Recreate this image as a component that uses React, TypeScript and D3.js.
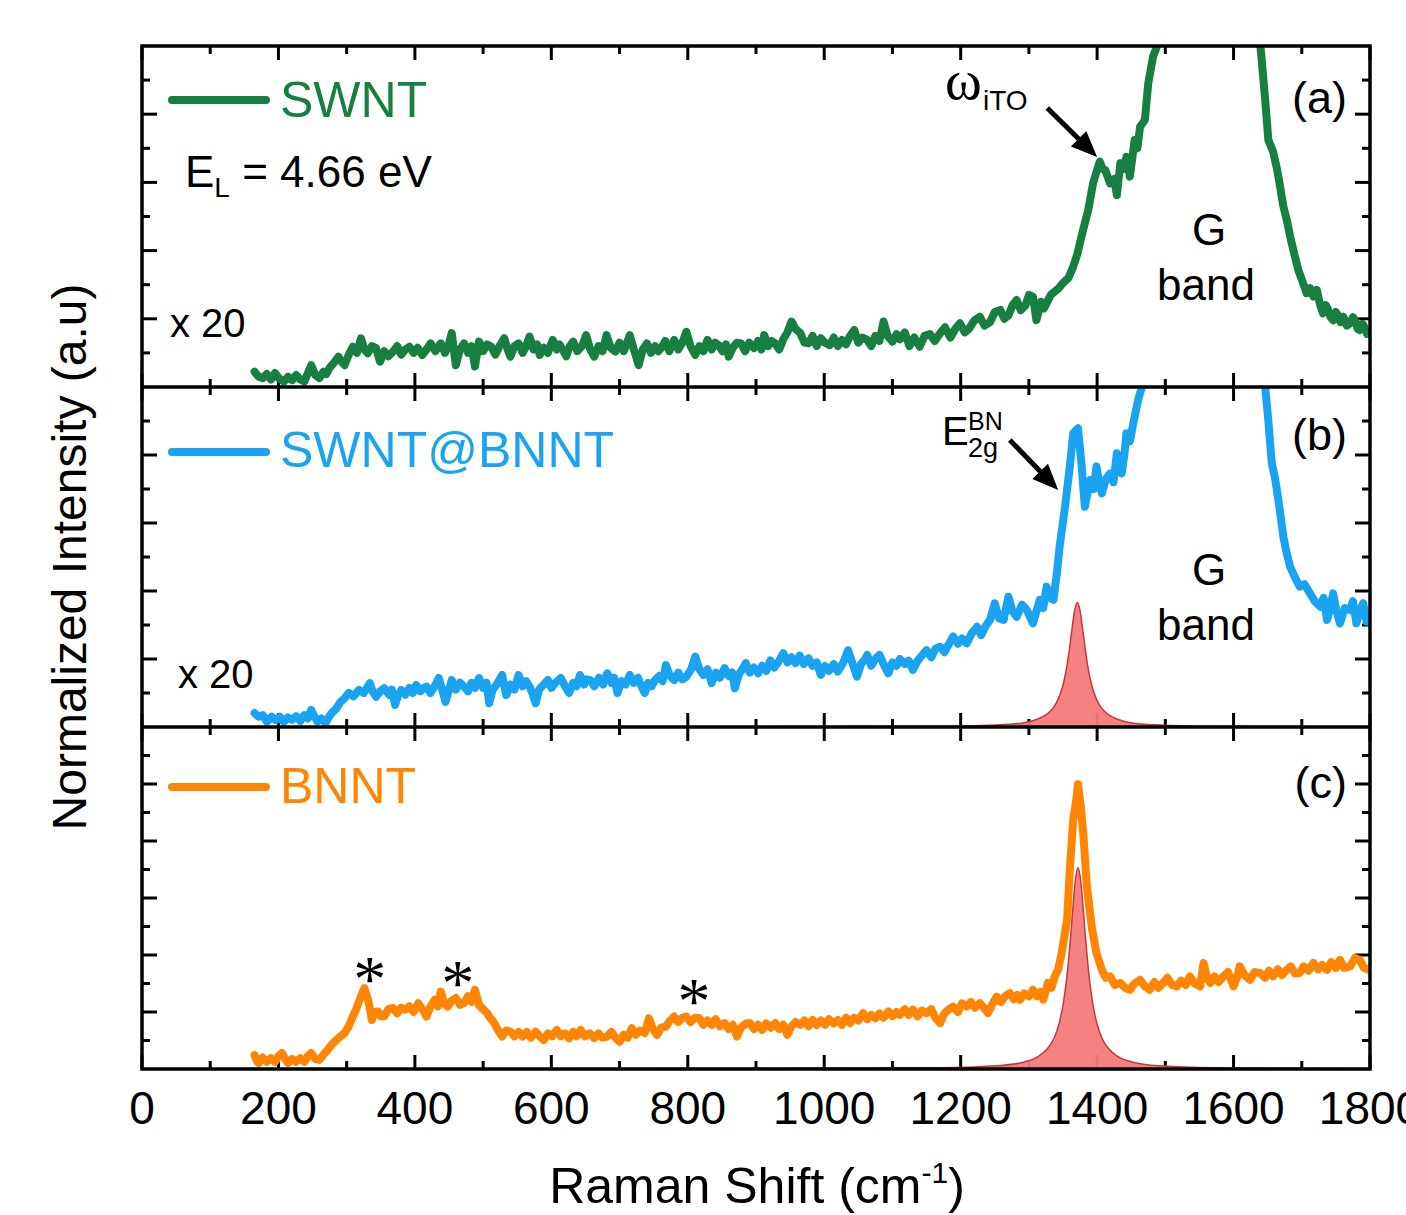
import React from "react";
import * as d3 from "d3";

type Pt = [number, number];

// spectra: [Raman shift cm-1, intensity in panel units]
const swnt: Pt[] = [
  [165, 0.45], [171, 0.3], [177, 0.26], [183, 0.38], [189, 0.22], [195, 0.41], [201, 0.25], [208, 0.16],
  [214, 0.3], [220, 0.2], [226, 0.35], [232, 0.22], [238, 0.16], [243, 0.4], [248, 0.64], [254, 0.35],
  [260, 0.26], [266, 0.45], [270, 0.38], [275, 0.56], [281, 0.7], [288, 0.89], [292, 0.75], [297, 0.64],
  [303, 0.95], [309, 1.18], [315, 1.0], [321, 1.43], [326, 1.1], [331, 0.99], [337, 1.2], [343, 1.14],
  [349, 0.74], [355, 1.05], [361, 0.9], [368, 1.04], [374, 1.2], [380, 0.95], [386, 1.1], [392, 1.18],
  [398, 1.0], [404, 1.15], [411, 0.94], [417, 1.1], [423, 1.28], [430, 1.05], [438, 1.28], [444, 1.0],
  [449, 1.2], [454, 1.58], [460, 0.64], [466, 1.1], [472, 1.28], [478, 1.0], [483, 1.2], [488, 0.6],
  [494, 1.33], [500, 1.05], [506, 1.25], [512, 1.18], [518, 0.95], [524, 1.2], [531, 1.43], [536, 1.1],
  [540, 0.89], [546, 1.2], [552, 1.28], [558, 1.0], [563, 1.2], [568, 1.48], [574, 1.1], [579, 1.25],
  [583, 0.94], [589, 1.15], [595, 1.0], [602, 1.38], [608, 1.1], [612, 1.25], [617, 1.08], [622, 0.9],
  [627, 1.2], [632, 1.33], [638, 1.05], [645, 1.2], [651, 1.52], [657, 1.1], [663, 0.89], [669, 1.2],
  [675, 1.05], [681, 1.52], [687, 1.15], [694, 1.04], [700, 1.3], [706, 1.05], [710, 1.25], [715, 1.52],
  [721, 1.1], [728, 0.64], [734, 1.1], [740, 1.28], [746, 1.0], [752, 1.2], [757, 1.05], [761, 1.14],
  [767, 1.35], [773, 1.05], [780, 1.38], [786, 1.1], [792, 1.3], [798, 1.62], [804, 1.2], [811, 0.94],
  [817, 1.2], [823, 1.05], [829, 1.38], [835, 1.1], [840, 1.3], [845, 1.23], [851, 1.05], [856, 1.25],
  [860, 0.89], [866, 1.15], [872, 1.3], [878, 1.28], [884, 1.05], [890, 1.3], [897, 1.14], [903, 1.35],
  [908, 1.1], [912, 1.52], [918, 1.2], [923, 1.35], [928, 1.28], [934, 1.1], [940, 1.4], [946, 1.6],
  [952, 1.92], [958, 1.7], [965, 1.58], [971, 1.3], [977, 1.28], [983, 1.5], [989, 1.2], [995, 1.43],
  [1001, 1.3], [1008, 1.23], [1014, 1.45], [1020, 1.2], [1026, 1.38], [1032, 1.25], [1038, 1.5], [1044, 1.67],
  [1050, 1.3], [1056, 1.45], [1063, 1.38], [1069, 1.2], [1075, 1.5], [1081, 1.35], [1087, 1.92], [1093, 1.5],
  [1100, 1.33], [1106, 1.55], [1111, 1.4], [1118, 1.6], [1125, 1.2], [1132, 1.45], [1140, 1.18], [1147, 1.5],
  [1155, 1.55], [1162, 1.35], [1170, 1.58], [1177, 1.75], [1185, 1.45], [1192, 1.7], [1199, 1.87], [1206, 1.6],
  [1212, 1.7], [1220, 1.95], [1228, 2.06], [1235, 1.8], [1243, 1.9], [1250, 2.2], [1258, 2.26], [1264, 2.0],
  [1270, 2.1], [1276, 2.4], [1282, 2.55], [1288, 2.25], [1295, 2.4], [1300, 2.7], [1306, 2.65], [1311, 1.96],
  [1318, 2.5], [1322, 2.3], [1326, 2.46], [1332, 2.7], [1338, 2.8], [1344, 2.9], [1350, 3.05], [1358, 3.2],
  [1365, 3.53], [1371, 3.9], [1377, 4.41], [1382, 4.8], [1387, 5.19], [1394, 5.97], [1399, 6.3], [1404, 6.61],
  [1408, 6.4], [1412, 6.36], [1419, 5.97], [1425, 6.1], [1429, 5.63], [1434, 6.56], [1439, 6.4], [1443, 6.75],
  [1448, 6.17], [1455, 7.24], [1459, 7.0], [1463, 7.63], [1470, 7.83], [1475, 8.91], [1482, 9.69], [1490, 10.1],
  [1500, 11.5], [1580, 16], [1630, 11.5], [1639, 10.1], [1646, 8.51], [1651, 7.24], [1658, 6.9], [1664, 6.36],
  [1668, 5.9], [1673, 5.29], [1678, 4.9], [1683, 4.41], [1689, 3.9], [1695, 3.43], [1701, 3.1], [1707, 2.75],
  [1712, 2.9], [1717, 2.65], [1722, 2.85], [1727, 2.4], [1731, 2.16], [1735, 2.4], [1738, 2.3], [1742, 2.05],
  [1746, 1.96], [1750, 2.2], [1753, 2.1], [1757, 1.9], [1761, 2.06], [1766, 1.8], [1771, 1.87], [1775, 2.05],
  [1778, 1.95], [1782, 1.7], [1785, 1.67], [1789, 1.85], [1792, 1.75], [1796, 1.55], [1800, 1.62],
];

const swntBnnt: Pt[] = [
  [165, 0.41], [171, 0.3], [177, 0.35], [183, 0.16], [190, 0.3], [196, 0.2], [202, 0.3], [208, 0.15],
  [214, 0.28], [220, 0.21], [226, 0.32], [232, 0.18], [238, 0.35], [243, 0.25], [248, 0.5], [253, 0.3],
  [257, 0.16], [263, 0.25], [269, 0.11], [274, 0.3], [278, 0.41], [285, 0.55], [291, 0.74], [297, 0.85],
  [303, 1.0], [310, 0.9], [318, 1.09], [325, 1.0], [334, 1.29], [338, 1.05], [343, 0.89], [349, 1.05],
  [355, 1.14], [362, 0.95], [366, 1.1], [371, 0.65], [375, 0.9], [380, 1.09], [386, 0.95], [392, 1.15],
  [397, 1.0], [402, 1.24], [408, 1.05], [413, 1.15], [417, 1.19], [423, 1.0], [429, 1.2], [435, 1.44],
  [440, 1.1], [445, 0.74], [450, 1.1], [454, 1.38], [460, 1.1], [466, 1.3], [472, 1.19], [478, 1.05],
  [483, 1.3], [488, 1.15], [494, 1.44], [500, 1.15], [505, 1.3], [509, 0.7], [514, 1.1], [520, 1.25],
  [528, 1.53], [531, 1.2], [534, 0.94], [540, 1.25], [546, 1.1], [552, 1.53], [558, 1.2], [563, 1.35],
  [568, 1.19], [572, 1.0], [577, 0.7], [582, 1.1], [589, 1.25], [595, 1.38], [600, 1.15], [606, 1.3],
  [614, 1.44], [620, 1.2], [626, 1.0], [632, 1.3], [637, 1.2], [642, 1.53], [648, 1.25], [652, 1.4],
  [657, 1.38], [663, 1.2], [670, 1.45], [676, 1.25], [682, 1.58], [688, 1.3], [692, 1.45], [697, 1.0],
  [703, 1.35], [709, 1.25], [715, 1.53], [721, 1.3], [727, 1.45], [732, 1.2], [737, 1.0], [742, 1.3],
  [747, 1.2], [752, 1.38], [758, 1.5], [763, 1.35], [768, 1.82], [774, 1.5], [780, 1.38], [786, 1.6],
  [792, 1.4], [798, 1.48], [805, 1.7], [811, 2.07], [817, 1.7], [823, 1.53], [829, 1.7], [835, 1.29],
  [841, 1.6], [847, 1.45], [854, 1.73], [860, 1.5], [865, 1.6], [869, 1.14], [875, 1.55], [880, 1.7],
  [885, 1.88], [891, 1.6], [897, 1.75], [903, 1.58], [909, 1.8], [915, 1.65], [921, 1.96], [927, 1.75],
  [934, 1.95], [940, 2.17], [946, 1.9], [952, 2.05], [958, 1.88], [964, 2.1], [970, 1.85], [977, 2.02],
  [983, 1.8], [989, 1.9], [995, 1.53], [1001, 1.8], [1007, 1.65], [1014, 1.85], [1020, 1.63], [1028, 1.9],
  [1035, 2.26], [1041, 1.9], [1048, 1.48], [1054, 1.85], [1060, 2.0], [1063, 2.12], [1069, 1.8], [1075, 2.0],
  [1081, 2.12], [1087, 1.85], [1094, 1.58], [1100, 1.9], [1106, 1.8], [1111, 2.0], [1118, 1.85], [1124, 1.95],
  [1130, 1.68], [1137, 1.95], [1143, 2.1], [1150, 2.26], [1157, 2.05], [1163, 2.3], [1170, 2.36], [1176, 2.2],
  [1183, 2.45], [1189, 2.66], [1196, 2.45], [1202, 2.6], [1209, 2.46], [1216, 2.75], [1224, 2.95], [1230, 2.7],
  [1236, 2.95], [1243, 3.15], [1250, 3.64], [1256, 3.2], [1263, 3.15], [1270, 3.83], [1276, 3.4], [1282, 3.24],
  [1290, 3.6], [1297, 3.44], [1306, 3.05], [1311, 3.4], [1316, 3.74], [1321, 3.5], [1326, 4.13], [1331, 3.8],
  [1336, 3.74], [1341, 4.52], [1345, 5.3], [1353, 6.48], [1360, 7.66], [1365, 8.64], [1372, 8.79], [1377, 7.76],
  [1382, 6.48], [1386, 6.9], [1390, 7.26], [1395, 7.0], [1399, 7.66], [1403, 7.2], [1407, 6.87], [1413, 7.3],
  [1419, 7.46], [1424, 7.2], [1429, 8.05], [1436, 7.46], [1440, 8.0], [1443, 8.64], [1448, 8.4], [1453, 8.93],
  [1460, 9.61], [1467, 10.1], [1480, 11.5], [1560, 16], [1640, 11.5], [1646, 10.1], [1651, 9.0], [1656, 7.76],
  [1661, 7.3], [1665, 6.77], [1669, 6.2], [1673, 5.6], [1678, 5.1], [1683, 4.71], [1690, 4.4], [1697, 4.13],
  [1704, 4.2], [1712, 3.93], [1719, 3.7], [1727, 3.54], [1732, 3.8], [1737, 3.15], [1742, 3.5], [1746, 3.93],
  [1751, 3.4], [1756, 3.05], [1763, 3.5], [1771, 3.44], [1775, 3.7], [1780, 3.05], [1785, 3.4], [1790, 3.64],
  [1795, 3.1], [1800, 3.24],
];

const bnnt: Pt[] = [
  [165, 0.49], [168, 0.3], [171, 0.21], [177, 0.4], [183, 0.25], [189, 0.38], [195, 0.25], [200, 0.45],
  [205, 0.56], [210, 0.35], [214, 0.21], [220, 0.35], [226, 0.25], [232, 0.38], [238, 0.25], [243, 0.45],
  [248, 0.56], [254, 0.35], [260, 0.32], [266, 0.5], [272, 0.67], [278, 0.85], [285, 1.02], [291, 1.15],
  [297, 1.26], [303, 1.5], [309, 1.84], [314, 2.1], [318, 2.37], [322, 2.6], [326, 2.84], [329, 2.6],
  [332, 2.37], [337, 1.72], [341, 2.0], [346, 2.02], [350, 1.85], [355, 1.84], [361, 2.1], [368, 2.14],
  [374, 1.95], [380, 2.15], [386, 2.08], [392, 2.2], [398, 2.0], [405, 2.31], [411, 2.1], [417, 1.84],
  [423, 2.2], [429, 2.43], [434, 2.2], [438, 2.72], [443, 2.3], [448, 2.19], [454, 2.4], [460, 2.49],
  [466, 2.25], [472, 2.31], [478, 2.55], [483, 2.35], [488, 2.78], [494, 2.25], [500, 2.1], [506, 1.96],
  [510, 1.8], [515, 1.66], [521, 1.4], [528, 1.14], [534, 1.35], [540, 1.31], [546, 1.15], [552, 1.3],
  [558, 1.14], [564, 1.3], [570, 1.1], [577, 1.31], [583, 1.15], [589, 1.02], [595, 1.25], [601, 1.15],
  [608, 1.37], [614, 1.15], [620, 1.25], [626, 1.08], [632, 1.3], [637, 1.15], [643, 1.37], [649, 1.15],
  [656, 1.25], [663, 1.08], [669, 1.25], [675, 1.1], [682, 1.14], [688, 1.3], [694, 1.1], [700, 0.96],
  [706, 1.2], [712, 1.1], [718, 1.43], [724, 1.2], [730, 1.35], [737, 1.26], [743, 1.78], [749, 1.4],
  [755, 1.2], [761, 1.45], [768, 1.49], [774, 1.7], [780, 1.84], [786, 1.65], [792, 1.8], [798, 1.84],
  [804, 1.65], [811, 1.8], [817, 1.78], [823, 1.55], [829, 1.7], [835, 1.55], [841, 1.75], [847, 1.5],
  [854, 1.61], [860, 1.4], [866, 1.55], [872, 1.14], [878, 1.45], [885, 1.6], [891, 1.61], [897, 1.4],
  [903, 1.55], [909, 1.37], [915, 1.6], [922, 1.45], [928, 1.61], [934, 1.4], [940, 1.55], [946, 1.2],
  [952, 1.5], [958, 1.65], [965, 1.55], [971, 1.7], [977, 1.5], [983, 1.72], [989, 1.55], [995, 1.7],
  [1001, 1.55], [1007, 1.75], [1014, 1.6], [1020, 1.72], [1026, 1.55], [1032, 1.8], [1038, 1.61], [1044, 1.8],
  [1050, 1.7], [1057, 1.96], [1063, 1.75], [1069, 1.9], [1075, 1.78], [1081, 1.95], [1087, 1.8], [1094, 2.02],
  [1100, 1.85], [1106, 2.0], [1111, 1.9], [1118, 2.1], [1124, 1.9], [1130, 2.08], [1137, 1.85], [1143, 2.05],
  [1150, 1.96], [1157, 2.1], [1163, 1.8], [1170, 1.61], [1176, 1.95], [1183, 2.1], [1189, 2.19], [1196, 2.0],
  [1202, 2.3], [1209, 2.19], [1215, 2.35], [1221, 2.15], [1228, 2.31], [1234, 2.15], [1240, 1.96], [1247, 2.3],
  [1253, 2.54], [1259, 2.35], [1265, 2.55], [1272, 2.66], [1278, 2.45], [1283, 2.6], [1287, 2.43], [1293, 2.65],
  [1300, 2.55], [1306, 2.78], [1312, 2.55], [1317, 2.7], [1321, 2.43], [1328, 3.02], [1333, 2.85], [1338, 3.25],
  [1343, 3.5], [1348, 4.07], [1356, 5.24], [1360, 7.0], [1365, 8.76], [1369, 9.36], [1372, 9.99], [1376, 9.23],
  [1380, 8.17], [1385, 6.41], [1392, 5.0], [1399, 4.07], [1407, 3.48], [1413, 3.2], [1419, 3.25], [1426, 2.95],
  [1434, 3.02], [1441, 2.85], [1448, 2.78], [1455, 3.0], [1463, 3.13], [1470, 2.9], [1477, 2.78], [1484, 3.05],
  [1490, 2.85], [1497, 3.02], [1503, 3.2], [1510, 2.95], [1517, 2.9], [1523, 3.1], [1530, 2.95], [1536, 3.25],
  [1543, 3.0], [1551, 2.9], [1556, 3.72], [1561, 3.2], [1566, 3.02], [1572, 3.25], [1578, 3.05], [1585, 3.25],
  [1592, 3.4], [1600, 2.9], [1605, 3.2], [1609, 3.6], [1616, 3.3], [1624, 3.13], [1631, 3.4], [1639, 3.37],
  [1646, 3.2], [1652, 3.45], [1658, 3.25], [1665, 3.5], [1671, 3.3], [1678, 3.48], [1684, 3.6], [1690, 3.35],
  [1697, 3.37], [1703, 3.6], [1710, 3.45], [1717, 3.72], [1724, 3.5], [1730, 3.65], [1737, 3.48], [1743, 3.75],
  [1750, 3.55], [1756, 3.83], [1762, 3.55], [1771, 3.6], [1778, 3.9], [1785, 3.83], [1791, 3.55], [1798, 3.48],
];

// E2g fitted peaks (red filled)
const fitHybrid: Pt[] = [
  [165, 0], [900, 0.01], [1100, 0.02], [1171, 0.02], [1251, 0.06], [1291, 0.12], [1311, 0.22], [1326, 0.37],
  [1336, 0.57], [1343, 0.82], [1349, 1.16], [1354, 1.6], [1359, 2.23], [1363, 2.85], [1367, 3.42], [1371, 3.66],
  [1375, 3.42], [1379, 2.85], [1383, 2.23], [1388, 1.6], [1393, 1.16], [1399, 0.82], [1406, 0.57], [1416, 0.37],
  [1431, 0.22], [1451, 0.12], [1491, 0.06], [1571, 0.02], [1800, 0],
];
const fitBnnt: Pt[] = [
  [165, 0], [900, 0.02], [1100, 0.04], [1172, 0.04], [1252, 0.11], [1292, 0.24], [1312, 0.42], [1327, 0.71],
  [1337, 1.09], [1344, 1.57], [1350, 2.24], [1355, 3.09], [1360, 4.31], [1364, 5.5], [1368, 6.6], [1372, 7.06],
  [1376, 6.6], [1380, 5.5], [1384, 4.31], [1389, 3.09], [1394, 2.24], [1400, 1.57], [1407, 1.09], [1417, 0.71],
  [1432, 0.42], [1452, 0.24], [1492, 0.11], [1572, 0.04], [1800, 0.01],
];

const xMajor = [0, 200, 400, 600, 800, 1000, 1200, 1400, 1600, 1800];
const xMinor = [100, 300, 500, 700, 900, 1100, 1300, 1500, 1700];
const xTickLabels = ["0", "200", "400", "600", "800", "1000", "1200", "1400", "1600", "1800"];

const seriesNames = ["SWNT", "SWNT@BNNT", "BNNT"];
const seriesColors = ["#178040", "#1aa3f0", "#ff8502"];
const panelLetters = ["(a)", "(b)", "(c)"];
// asterisks in panel (c): [cm-1, height]
const asterisks: Pt[] = [[334, 3.55], [463, 3.41], [809, 2.78]];

const FONT = '"Liberation Sans", Arial, Helvetica, sans-serif';
const SERIF = '"Liberation Serif", "Times New Roman", serif';

const W = 1406, H = 1215;
const left = 142, right = 1370;
const panels = [
  { top: 46, bottom: 387, max: 10, data: swnt, fit: null as Pt[] | null },
  { top: 387, bottom: 727, max: 10, data: swntBnnt, fit: fitHybrid },
  { top: 727, bottom: 1069, max: 12, data: bnnt, fit: fitBnnt },
];

function Arrow({ x1, y1, x2, y2 }: { x1: number; y1: number; x2: number; y2: number }) {
  const dx = x2 - x1, dy = y2 - y1;
  const len = Math.hypot(dx, dy);
  const ux = dx / len, uy = dy / len;
  const head = 26, hw = 11;
  const bx = x2 - ux * head, by = y2 - uy * head;
  const pts = [
    [x2, y2],
    [bx - uy * hw, by + ux * hw],
    [bx + uy * hw, by - ux * hw],
  ];
  return (
    <g>
      <line x1={x1} y1={y1} x2={bx + ux * 2} y2={by + uy * 2} stroke="#000" strokeWidth={5} />
      <polygon points={pts.map((p) => p.join(",")).join(" ")} fill="#000" />
    </g>
  );
}

export default function App() {
  const x = d3.scaleLinear().domain([0, 1800]).range([left, right]);

  return (
    <div style={{ position: "absolute", left: 0, top: 0 }}>
      <svg width={W} height={H} style={{ display: "block", background: "#fff" }} fontFamily={FONT}>
        <defs>
          {panels.map((p, i) => (
            <clipPath id={"clip" + i} key={i}>
              <rect x={left} y={p.top} width={right - left} height={p.bottom - p.top} />
            </clipPath>
          ))}
        </defs>

        {panels.map((p, i) => {
          const y = d3.scaleLinear().domain([0, p.max]).range([p.bottom, p.top]);
          const line = d3.line<Pt>().x((d) => x(d[0])).y((d) => y(d[1]));
          const area = d3
            .area<Pt>()
            .x((d) => x(d[0]))
            .y0(y(0))
            .y1((d) => y(d[1]))
            .curve(d3.curveMonotoneX);
          const yTicks = d3.range(1, p.max);
          return (
            <g key={i}>
              {xMajor.concat(xMinor).map((t) => {
                const len = xMajor.includes(t) ? 14 : 8;
                return (
                  <g key={"xt" + t} stroke="#000" strokeWidth={3}>
                    <line x1={x(t)} x2={x(t)} y1={p.top} y2={p.top + len} />
                    <line x1={x(t)} x2={x(t)} y1={p.bottom} y2={p.bottom - len} />
                  </g>
                );
              })}
              {yTicks.map((t) => {
                const len = t % 2 === 0 ? 15 : 8;
                return (
                  <g key={"yt" + t} stroke="#000" strokeWidth={3}>
                    <line x1={left} x2={left + len} y1={y(t)} y2={y(t)} />
                    <line x1={right} x2={right - len} y1={y(t)} y2={y(t)} />
                  </g>
                );
              })}
              <g clipPath={`url(#clip${i})`}>
                <path
                  d={line(p.data) || ""}
                  fill="none"
                  stroke={seriesColors[i]}
                  strokeWidth={8}
                  strokeLinejoin="round"
                  strokeLinecap="round"
                />
                {p.fit && (
                  <path d={area(p.fit) || ""} fill="#f47a7a" fillOpacity={0.95} stroke="#c23a3a" strokeWidth={1.5} />
                )}
              </g>
              <line
                x1={172}
                x2={266}
                y1={[100, 452, 787][i]}
                y2={[100, 452, 787][i]}
                stroke={seriesColors[i]}
                strokeWidth={8}
                strokeLinecap="round"
              />
              <text x={280} y={[117, 467, 803][i]} fontSize={50} fill={seriesColors[i]}>
                {seriesNames[i]}
              </text>
              <text x={1347} y={[113, 450, 798][i]} fontSize={45} textAnchor="end">
                {panelLetters[i]}
              </text>
              {i === 2 &&
                asterisks.map((a, k) => (
                  <text key={k} x={x(a[0])} y={y(a[1]) + 33} fontSize={66} fontFamily={SERIF} textAnchor="middle">
                    *
                  </text>
                ))}
            </g>
          );
        })}

        <g fill="none" stroke="#000" strokeWidth={3.5}>
          <rect x={left} y={46} width={right - left} height={1069 - 46} />
          <line x1={left} x2={right} y1={387} y2={387} />
          <line x1={left} x2={right} y1={727} y2={727} />
        </g>

        {/* panel (a) annotations */}
        <text x={185} y={187} fontSize={44}>
          E<tspan fontSize={28} dy={10}>L</tspan>
          <tspan dy={-10}> = 4.66 eV</tspan>
        </text>
        <text x={170} y={337} fontSize={40}>x 20</text>
        <text x={1209} y={245} fontSize={44} textAnchor="middle">G</text>
        <text x={1206} y={300} fontSize={44} textAnchor="middle">band</text>
        <text x={945} y={99} fontSize={56} fontFamily={SERIF}>ω</text>
        <text x={983} y={110} fontSize={28}>iTO</text>
        <Arrow x1={x(1327)} y1={108} x2={x(1400)} y2={157} />

        {/* panel (b) annotations */}
        <text x={178} y={688} fontSize={40}>x 20</text>
        <text x={1209} y={585} fontSize={44} textAnchor="middle">G</text>
        <text x={1206} y={640} fontSize={44} textAnchor="middle">band</text>
        <text x={942} y={445} fontSize={40}>E</text>
        <text x={968} y={430} fontSize={25}>BN</text>
        <text x={968} y={457} fontSize={27}>2g</text>
        <Arrow x1={x(1272)} y1={440} x2={x(1343)} y2={490} />

        {xMajor.map((t, k) => (
          <text key={t} x={x(t)} y={1124} fontSize={46} textAnchor="middle">
            {xTickLabels[k]}
          </text>
        ))}
        <text x={757} y={1203} fontSize={50} textAnchor="middle">
          Raman Shift (cm<tspan fontSize={30} dy={-20}>-1</tspan>
          <tspan dy={20}>)</tspan>
        </text>
        <text transform="translate(86,557) rotate(-90)" fontSize={48} textAnchor="middle">
          Normalized Intensity (a.u)
        </text>
      </svg>
    </div>
  );
}
